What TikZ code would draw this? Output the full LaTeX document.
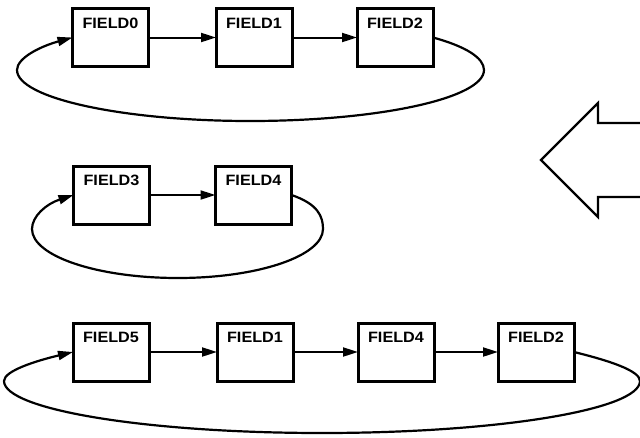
\documentclass[tikz,border=0pt]{standalone}
\usepackage{fontspec}
\setmainfont{Liberation Sans}[FakeStretch=1.08]
\usetikzlibrary{arrows.meta}
\begin{document}
\begin{tikzpicture}[x=1pt,y=-1pt,
  fieldbox/.style={draw, line width=3pt, minimum width=76pt, minimum height=58pt,
    inner sep=0pt, outer sep=0pt, text height=10.8pt, text depth=29pt,
    font=\fontsize{15}{18}\selectfont\bfseries},
  link/.style={line width=2pt, -{Triangle[length=15pt,width=9pt]}},
  backlink/.style={line width=2.2pt, -{Triangle[length=15pt,width=9pt]}},
  bigarrow/.style={line width=2.2pt, line join=miter}]
\useasboundingbox (0,0) rectangle (640,437);
\clip (0,0) rectangle (640,437);
\fill[white] (0,0) rectangle (640,437);

% row 1
\node[fieldbox] (a0) at (110.5,37.5) {FIELD0};
\node[fieldbox] (a1) at (254,37.5) {FIELD1};
\node[fieldbox] (a2) at (395,37.5) {FIELD2};
\draw[link] (a0.east) -- (a1.west);
\draw[link] (a1.east) -- (a2.west);
\draw[backlink] (a2.east) .. controls (466,46.5) and (484,58) .. (484,70)
  .. controls (484,98) and (380,121) .. (250,121)
  .. controls (122,121) and (17,98) .. (17,70)
  .. controls (17,58) and (40,46.5) .. (a0.west);

% row 2
\node[fieldbox] (b3) at (111.5,195) {FIELD3};
\node[fieldbox] (b4) at (253.5,195) {FIELD4};
\draw[link] (b3.east) -- (b4.west);
\draw[backlink] (b4.east) .. controls (318,204) and (323,216.4) .. (323,229)
  .. controls (323,256) and (258,278) .. (178,278)
  .. controls (97,278) and (32,256) .. (32,229)
  .. controls (32,216.4) and (46,204) .. (b3.west);

% row 3
\node[fieldbox] (c5) at (111,352) {FIELD5};
\node[fieldbox] (c1) at (255,352) {FIELD1};
\node[fieldbox] (c4) at (396,352) {FIELD4};
\node[fieldbox] (c2) at (536,352) {FIELD2};
\draw[link] (c5.east) -- (c1.west);
\draw[link] (c1.east) -- (c4.west);
\draw[link] (c4.east) -- (c2.west);
\draw[backlink] (c2.east) .. controls (609,360.6) and (640,370.7) .. (640,381)
  .. controls (640,409.7) and (497.6,433) .. (322,433)
  .. controls (146.4,433) and (4,409.7) .. (4,381)
  .. controls (4,370.7) and (37,360.6) .. (c5.west);

% big hollow arrow
\draw[bigarrow] (646,123) -- (598,123) -- (598,103) -- (541,160) -- (598,217) -- (598,197) -- (646,197);
\end{tikzpicture}
\end{document}
